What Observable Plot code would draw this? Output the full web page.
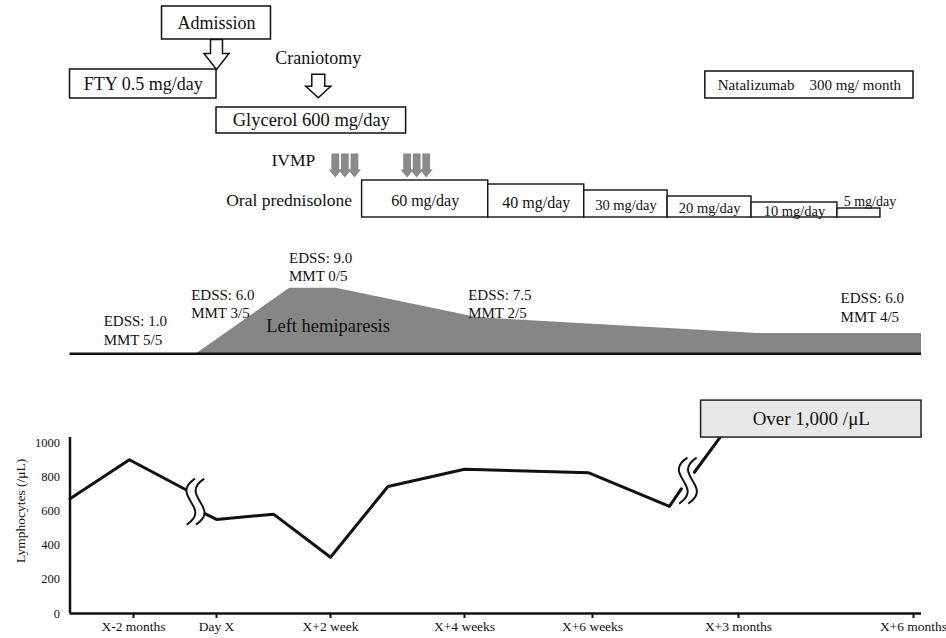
<!DOCTYPE html>
<html>
<head>
<meta charset="utf-8">
<script src="https://cdn.jsdelivr.net/npm/d3@7"></script>
<script src="https://cdn.jsdelivr.net/npm/@observablehq/plot@0.6"></script>
<style>
  body { margin: 0; background: #fff; }
  #chart { position: relative; width: 946px; height: 638px; overflow: hidden; background: #fff; }
  #chart svg { position: absolute; left: 0; overflow: visible; background: transparent !important; }
</style>
</head>
<body>
<div id="chart"></div>
<script>
// ================= DATA (days relative to Day X) =================
const tickDays   = [-60, 0, 14, 28, 42, 90, 180];
const tickLabels = ["X-2 months", "Day X", "X+2 week", "X+4 weeks", "X+6 weeks", "X+3 months", "X+6 months"];

// Lymphocyte counts (/µL); segments are separated by axis breaks
const lymphSegment = [1, 1, 1, 2, 2, 2, 2, 2, 2, 2, 2, 2, 3, 3];
const lymphDay     = [-106, -63, -22.4, -8, 0, 7, 14, 20, 28, 41.6, 67.3, 71.2, 75.5, 84];
const lymphValue   = [671, 899, 725, 583, 550, 581, 329, 743, 844, 823, 627, 729, 826, 1031];
const lymphTicks   = [0, 200, 400, 600, 800, 1000];
const overLabel    = "Over 1,000 /μL";
const overPeriod   = [77.7, 184];
const overRange    = [1029, 1245];

// Hemiparesis severity (schematic units)
const hemiDay      = [-106, -14.4, 9.0, 14.6, 29.5, 99.8, 184];
const hemiSeverity = [0, 0, 10, 10, 5.5, 3.1, 3.1];
const edssDay      = [-81.6, -18.3, 8.9, 28.4, 142.5];
const edssScore    = ["1.0", "6.0", "9.0", "7.5", "6.0"];
const mmtScore     = ["5/5", "3/5", "0/5", "2/5", "4/5"];
const hemiLabel    = "Left hemiparesis";
const hemiLabelDay = 13.7;

// Treatments
const admissionDay   = 0;
const craniotomyDay  = 12.5;
const ftyPeriod      = [-106, 0];
const glycerolPeriod = [0, 21.9];
const nataPeriod     = [79.1, 180];
const ivmpDays       = [14.5, 15.5, 16.5, 22, 23, 24];
const predStart      = [17.3, 30.6, 41.1, 66.7, 96.7, 140.9];
const predEnd        = [30.6, 41.1, 66.7, 96.7, 140.9, 163];
const predDose       = [60, 40, 30, 20, 10, 5];

// ================= LAYOUT (pixels / styles) =================
const FONT = "Liberation Serif, Times New Roman, serif";
const INK = "#111";
const X_DOMAIN = [-106, -60, 0, 14, 28, 42, 90, 180, 184];
const X_RANGE  = [69.5, 133, 216, 330, 464, 592, 738, 913, 921];
const X_SCALE  = {type: "linear", domain: X_DOMAIN, range: X_RANGE, axis: null};
const xs = Plot.scale({x: {type: "linear", domain: X_DOMAIN, range: X_RANGE}});
const mid = (a, b) => xs.invert((xs.apply(a) + xs.apply(b)) / 2);

const LANE = {admission: [6, 39], fty: [69, 98], nata: [71, 98], glycerol: [107, 133]};
const PRED_DOSE_DOMAIN = [0, 5, 10, 20, 30, 40, 60];
const PRED_DOSE_RANGE  = [47, 38, 32, 26, 20, 14, 10];
const PRED_LABEL_DY    = [-17, -15, -12, -9, -6, -16];
const PRED_LABEL_DX    = [0, 0, 0, 0, 0, 11];
const PRED_LABEL_SIZE  = [16, 16, 14.5, 14.5, 14.5, 14];
const EDSS_LABEL_DY    = [99.2, 72.5, 35.3, 72.5, 76];

// custom symbols
function blockArrow(shaftHalf, shaftLen, headLen) {
  return {draw(ctx, size) {
    const r = Math.sqrt(size / Math.PI);
    const top = -(shaftLen + headLen) * r / 2;
    const neck = top + shaftLen * r;
    const tip = neck + headLen * r;
    const s = shaftHalf * r;
    ctx.moveTo(-s, top); ctx.lineTo(s, top); ctx.lineTo(s, neck); ctx.lineTo(r, neck);
    ctx.lineTo(0, tip); ctx.lineTo(-r, neck); ctx.lineTo(-s, neck); ctx.closePath();
  }};
}
const breakMark = {draw(ctx, size) {
  const r = Math.sqrt(size / Math.PI);
  for (const ox of [-0.2 * r, 0.2 * r]) {
    ctx.moveTo(ox + 0.18 * r, -r);
    ctx.bezierCurveTo(ox - 0.95 * r, -0.25 * r, ox + 0.95 * r, 0.25 * r, ox - 0.18 * r, r);
  }
}};

const chart = document.getElementById("chart");
function place(svg, top) { svg.style.top = top + "px"; chart.appendChild(svg); }

// ================= PANEL A: treatments =================
const boxes = [
  {label: "FTY 0.5 mg/day", x1: ftyPeriod[0], x2: ftyPeriod[1], lane: "fty", size: 18},
  {label: "Glycerol 600 mg/day", x1: glycerolPeriod[0], x2: glycerolPeriod[1], lane: "glycerol", size: 18.5},
  {label: "Natalizumab\u00a0\u00a0\u00a0\u00a0300 mg/ month", x1: nataPeriod[0], x2: nataPeriod[1], lane: "nata", size: 15}
];
const panelA = Plot.plot({
  width: 946, height: 225, margin: 0,
  style: {fontFamily: FONT, color: INK, background: "transparent"},
  x: X_SCALE,
  y: {type: "linear", domain: [0, 225], range: [0, 225], axis: null},
  marks: [
    Plot.rect(boxes, {x1: "x1", x2: "x2", y1: d => LANE[d.lane][0], y2: d => LANE[d.lane][1], fill: "white", stroke: INK, strokeWidth: 1.5}),
    ...boxes.map(b => Plot.text([b], {x: d => mid(d.x1, d.x2), y: d => (LANE[d.lane][0] + LANE[d.lane][1]) / 2, text: "label", fontSize: b.size, fill: INK})),
    Plot.rect([admissionDay], {x1: d => d, x2: d => d, y1: LANE.admission[0], y2: LANE.admission[1], insetLeft: -54.5, insetRight: -54.5, fill: "white", stroke: INK, strokeWidth: 1.5}),
    Plot.text([admissionDay], {x: d => d, y: (LANE.admission[0] + LANE.admission[1]) / 2, text: () => "Admission", fontSize: 18, fill: INK}),
    Plot.dot([admissionDay], {x: d => d, y: 54, r: 12.5, symbol: blockArrow(0.48, 1.12, 1.28), fill: "white", stroke: INK, strokeWidth: 1.5}),
    Plot.text([craniotomyDay], {x: d => d, y: 58, text: () => "Craniotomy", fontSize: 18, fill: INK}),
    Plot.dot([craniotomyDay], {x: d => d, y: 85.5, r: 12.5, symbol: blockArrow(0.52, 0.96, 0.92), fill: "white", stroke: INK, strokeWidth: 1.5}),
    Plot.text([ivmpDays[0]], {x: d => d, y: 160, dx: -20, textAnchor: "end", text: () => "IVMP", fontSize: 17.5, fill: INK}),
    Plot.dot(ivmpDays, {x: d => d, y: 165, r: 6.5, symbol: blockArrow(0.6, 2.46, 1.23), fill: "#8a8a8a", stroke: "none"}),
    Plot.text([predStart[0]], {x: d => d, y: 200, dx: -10, textAnchor: "end", text: () => "Oral prednisolone", fontSize: 17.5, fill: INK})
  ]
});
place(panelA, 0);

// ================= PANEL P: prednisolone taper =================
const pred = predDose.map((dose, i) => ({dose, x1: predStart[i], x2: predEnd[i], label: `${dose} mg/day`}));
const panelP = Plot.plot({
  width: 946, height: 47, margin: 0,
  style: {fontFamily: FONT, color: INK, background: "transparent"},
  x: X_SCALE,
  y: {type: "linear", domain: PRED_DOSE_DOMAIN, range: PRED_DOSE_RANGE, axis: null},
  marks: [
    Plot.rect(pred, {x1: "x1", x2: "x2", y1: 0, y2: "dose", fill: "white", stroke: INK, strokeWidth: 1.4}),
    ...pred.map((p, i) => Plot.text([p], {x: d => mid(d.x1, d.x2), frameAnchor: "bottom", lineAnchor: "middle", dy: PRED_LABEL_DY[i], dx: PRED_LABEL_DX[i], text: "label", fontSize: PRED_LABEL_SIZE[i], fill: INK}))
  ]
});
place(panelP, 170);

// ================= PANEL B: hemiparesis / EDSS =================
const hemi = hemiDay.map((day, i) => ({day, severity: hemiSeverity[i]}));
const edss = edssDay.map((day, i) => ({day, label: `EDSS: ${edssScore[i]}\nMMT ${mmtScore[i]}`}));
const panelB = Plot.plot({
  width: 946, height: 135, margin: 0,
  style: {fontFamily: FONT, color: INK, background: "transparent"},
  x: X_SCALE,
  y: {type: "linear", domain: [0, 10], range: [123.3, 57.7], axis: null},
  marks: [
    Plot.areaY(hemi, {x: "day", y: "severity", fill: "#868686"}),
    Plot.ruleY([0], {x1: X_DOMAIN[0], x2: X_DOMAIN[X_DOMAIN.length - 1], stroke: "#111", strokeWidth: 2.5}),
    ...edss.map((e, i) => Plot.text([e], {x: "day", frameAnchor: "top", lineAnchor: "middle", dy: EDSS_LABEL_DY[i], text: "label", textAnchor: "start", lineHeight: 1.22, fontSize: 15, fill: INK})),
    Plot.text([hemiLabelDay], {x: d => d, frameAnchor: "top", lineAnchor: "middle", dy: 96, text: () => hemiLabel, fontSize: 18.5, fill: "#111"})
  ]
});
place(panelB, 230);

// ================= PANEL C: lymphocytes =================
const lymph = lymphDay.map((day, i) => ({day, value: lymphValue[i], segment: lymphSegment[i]}));
const breaks = [];
for (let i = 1; i < lymph.length; i++) {
  if (lymph[i].segment !== lymph[i - 1].segment) {
    breaks.push({day: (lymph[i].day + lymph[i - 1].day) / 2, value: (lymph[i].value + lymph[i - 1].value) / 2});
  }
}
const panelC = Plot.plot({
  width: 946, height: 258, marginTop: 62, marginBottom: 25, marginLeft: 69.5, marginRight: 25,
  style: {fontFamily: FONT, color: INK, background: "transparent"},
  x: {type: "linear", domain: X_DOMAIN, range: X_RANGE},
  y: {type: "linear", domain: [0, 1000]},
  marks: [
    Plot.axisY({ticks: lymphTicks, tickFormat: d => String(d), tickSize: 0, tickPadding: 10, fontSize: 12.5, label: null}),
    Plot.axisX({ticks: tickDays, tickFormat: d => tickLabels[tickDays.indexOf(d)], tickSize: 5, tickPadding: 3, strokeWidth: 2, fontSize: 13.5, label: null}),
    Plot.ruleY([0], {x1: X_DOMAIN[0], x2: X_DOMAIN[X_DOMAIN.length - 1], stroke: "#111", strokeWidth: 2.5}),
    Plot.ruleX([X_DOMAIN[0]], {y1: 0, y2: overRange[0], stroke: "#111", strokeWidth: 2.5}),
    Plot.line(lymph, {x: "day", y: "value", z: "segment", stroke: INK, strokeWidth: 3}),
    Plot.dot(breaks, {x: "day", y: "value", r: 23, symbol: breakMark, fill: "none", stroke: "#111", strokeWidth: 2}),
    Plot.rect([overLabel], {x1: overPeriod[0], x2: overPeriod[1], y1: overRange[0], y2: overRange[1], fill: "#e8e8e8", stroke: "#222", strokeWidth: 1.5}),
    Plot.text([overLabel], {x: mid(overPeriod[0], overPeriod[1]), y: (overRange[0] + overRange[1]) / 2, text: d => d, fontSize: 19, fill: INK}),
    Plot.text(["Lymphocytes (/μL)"], {x: X_DOMAIN[0], y: 600, dx: -49, rotate: -90, text: d => d, fontSize: 13.5, fill: INK})
  ]
});
place(panelC, 380);
</script>
</body>
</html>
